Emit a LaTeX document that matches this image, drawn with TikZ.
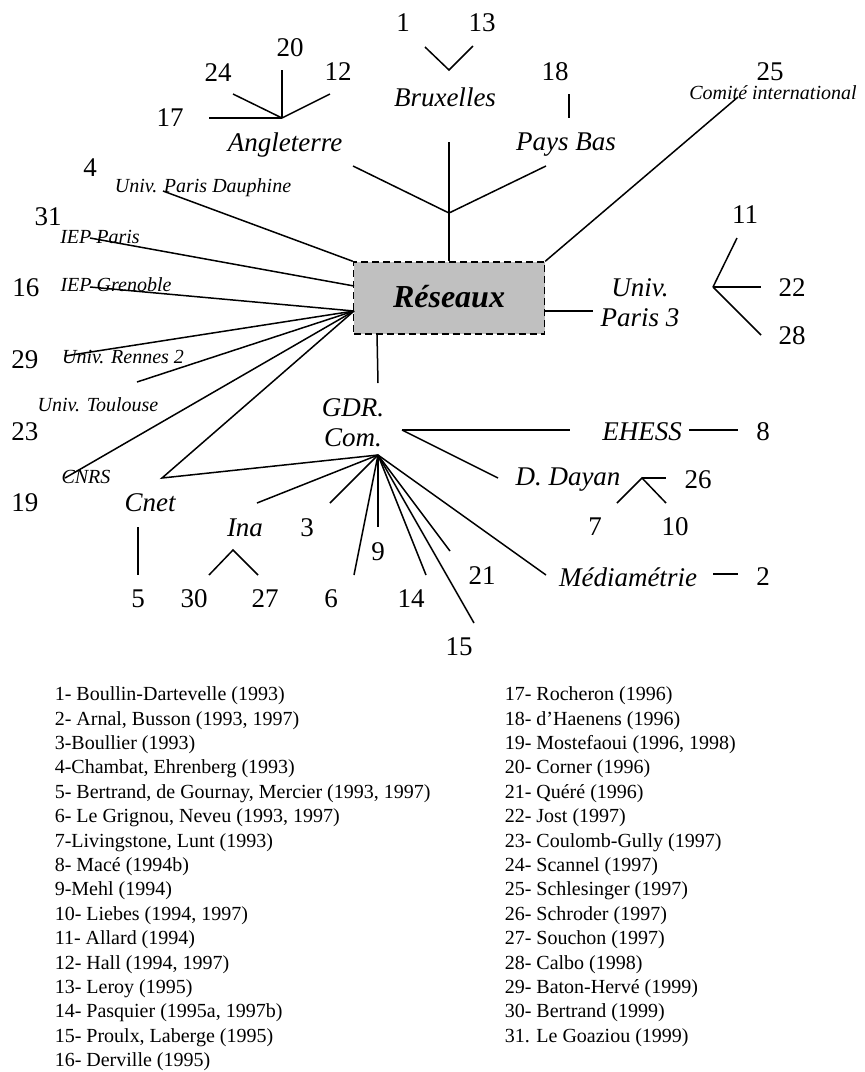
\documentclass[tikz,border=0pt]{standalone}
\usepackage{fontspec}
\setmainfont{Liberation Serif}
\usetikzlibrary{positioning}
\definecolor{boxgray}{RGB}{192,192,192}

\begin{document}
\begin{tikzpicture}[x=1pt, y=-1pt, line width=1.5pt,
  num/.style={font=\fontsize{27}{30}\selectfont, inner sep=0pt},
  place/.style={font=\fontsize{27}{30}\selectfont\itshape, inner sep=0pt, align=center},
  inst/.style={font=\fontsize{20}{22}\selectfont\itshape, inner sep=0pt},
  hubbox/.style={draw, dash pattern=on 7pt off 4pt, fill=boxgray, minimum width=191pt, minimum height=72pt, inner sep=0pt, font=\fontsize{32}{36}\selectfont\bfseries\itshape},
  legend/.style={font=\fontsize{20}{24.4}\selectfont, anchor=north west, align=left, inner sep=0pt}]

    \useasboundingbox (0,0) rectangle (865,1072);

    \node[hubbox] (res) at (449,298) {\raisebox{3pt}{Réseaux}};

    \node[place] (bru)   at (445,97)  {Bruxelles};
    \node[place] (ang)   at (285,145) {Angleterre};
    \node[place] (pb)    at (566,145) {Pays Bas};
    \node[place] (up3)   at (640,303) {Univ.\\Paris 3};
    \node[place] (gdr)   at (353,423) {GDR.\\Com.};
    \node[place] (ehess) at (642,432) {EHESS};
    \node[place] (dayan) at (568,480) {D. Dayan};
    \node[place] (media) at (628,577) {Médiamétrie};
    \node[place] (cnet)  at (150,503) {Cnet};
    \node[place] (ina)   at (245,528) {Ina};

    \node[inst] (dau)  at (203,188) {Univ. Paris Dauphine};
    \node[inst] (com)  at (773,93)  {Comité international};
    \node[inst] (iepp) at (100,237) {IEP Paris};
    \node[inst] (iepg) at (116,285) {IEP Grenoble};
    \node[inst] (ren)  at (123,357) {Univ. Rennes 2};
    \node[inst] (tou)  at (98,405)  {Univ. Toulouse};
    \node[inst] (cnrs) at (86,477)  {CNRS};

    \node[num] (n1)  at (403,23)  {1};
    \node[num] (n13) at (482,23)  {13};
    \node[num] (n20) at (290,48)  {20};
    \node[num] (n24) at (218,73)  {24};
    \node[num] (n12) at (338,72)  {12};
    \node[num] (n17) at (170,118) {17};
    \node[num] (n18) at (555,72)  {18};
    \node[num] (n25) at (770,72)  {25};
    \node[num] (n4)  at (90,168)  {4};
    \node[num] (n31) at (48,217)  {31};
    \node[num] (n16) at (26,288)  {16};
    \node[num] (n29) at (25,360)  {29};
    \node[num] (n23) at (25,432)  {23};
    \node[num] (n19) at (25,503)  {19};
    \node[num] (n11) at (745,215) {11};
    \node[num] (n22) at (792,288) {22};
    \node[num] (n28) at (792,336) {28};
    \node[num] (n8)  at (763,432) {8};
    \node[num] (n26) at (698,480) {26};
    \node[num] (n7)  at (595,527) {7};
    \node[num] (n10) at (675,527) {10};
    \node[num] (n2)  at (763,577) {2};
    \node[num] (n5)  at (138,599) {5};
    \node[num] (n30) at (194,599) {30};
    \node[num] (n27) at (265,599) {27};
    \node[num] (n3)  at (307,528) {3};
    \node[num] (n9)  at (378,552) {9};
    \node[num] (n6)  at (331,599) {6};
    \node[num] (n14) at (411,599) {14};
    \node[num] (n21) at (482,576) {21};
    \node[num] (n15) at (459,647) {15};

    \coordinate (jtop) at (449,213);
    \coordinate (bruend) at (449,142);
    \coordinate (angend) at (353,166);
    \coordinate (pbend) at (546,166);
    \coordinate (comend) at (738,97);
    \coordinate (dauend) at (163,191);
    \coordinate (resw) at (354,286);
    \coordinate (hubw) at (354,311);
    \coordinate (ieppend) at (90,238);
    \coordinate (iepgend) at (90,287);
    \coordinate (renend) at (65,356);
    \coordinate (touend) at (137,382);
    \coordinate (cnrsend) at (65,478);
    \coordinate (cnetpt) at (162,478);
    \coordinate (rese) at (544,311);
    \coordinate (up3end) at (593,311);
    \coordinate (ress) at (377,334);
    \coordinate (gdrend) at (378,383);

    \draw (res.north) -- (bruend);
    \draw (angend) -- (jtop) -- (pbend);
    \draw (res.north east) -- (comend);
    \draw (res.north west) -- (dauend);
    \draw (resw) -- (ieppend);
    \draw (hubw) -- (iepgend);
    \draw (hubw) -- (renend);
    \draw (hubw) -- (touend);
    \draw (hubw) -- (cnrsend);
    \draw (rese) -- (up3end);
    \draw (ress) -- (gdrend);

    \coordinate (jang) at (282,118);
    \coordinate (a20) at (282,70);
    \coordinate (a24) at (233,94);
    \coordinate (a12) at (330,94);
    \coordinate (a17) at (209,118);
    \draw (jang) -- (a20);
    \draw (jang) -- (a24);
    \draw (jang) -- (a12);
    \draw (jang) -- (a17);

    \coordinate (b1) at (425,47);
    \coordinate (jbru) at (449,70);
    \coordinate (b13) at (473,46);
    \draw (b1) -- (jbru) -- (b13);

    \coordinate (p18) at (569,94);
    \coordinate (p18b) at (569,118);
    \draw (p18) -- (p18b);

    \coordinate (jup3) at (713,287);
    \coordinate (u11) at (737,238);
    \coordinate (u22) at (761,287);
    \coordinate (u28) at (761,335);
    \draw (jup3) -- (u11);
    \draw (jup3) -- (u22);
    \draw (jup3) -- (u28);

    \coordinate (jgdr) at (378,455);
    \coordinate (jeh) at (402,430);
    \coordinate (ehend) at (570,430);
    \coordinate (dayend) at (498,478);
    \coordinate (inaend) at (257,503);
    \coordinate (g3) at (330,503);
    \coordinate (g9) at (378,527);
    \coordinate (g6) at (354,575);
    \coordinate (g14) at (426,575);
    \coordinate (g15) at (474,623);
    \coordinate (g21) at (450,551);
    \coordinate (mediaend) at (546,575);
    \draw (hubw) -- (cnetpt) -- (jgdr);
    \draw (jeh) -- (ehend);
    \draw (jeh) -- (dayend);
    \draw (jgdr) -- (inaend);
    \draw (jgdr) -- (g3);
    \draw (jgdr) -- (g9);
    \draw (jgdr) -- (g6);
    \draw (jgdr) -- (g14);
    \draw (jgdr) -- (g15);
    \draw (jgdr) -- (g21);
    \draw (jgdr) -- (mediaend);

    \coordinate (e8a) at (689,430);
    \coordinate (e8b) at (738,430);
    \draw (e8a) -- (e8b);
    \coordinate (m2a) at (713,574);
    \coordinate (m2b) at (738,574);
    \draw (m2a) -- (m2b);

    \coordinate (jday) at (642,478);
    \coordinate (d26) at (666,478);
    \coordinate (d7) at (617,503);
    \coordinate (d10) at (666,503);
    \draw (jday) -- (d26);
    \draw (d7) -- (jday) -- (d10);

    \coordinate (c5a) at (138,527);
    \coordinate (c5b) at (138,575);
    \draw (c5a) -- (c5b);
    \coordinate (i30) at (209,575);
    \coordinate (jina) at (233,550);
    \coordinate (i27) at (258,575);
    \draw (i30) -- (jina) -- (i27);

    \node[legend] (legl) at (54,686) {1- Boullin-Dartevelle (1993)\\2- Arnal, Busson (1993, 1997)\\3-Boullier (1993)\\4-Chambat, Ehrenberg (1993)\\5- Bertrand, de Gournay, Mercier (1993, 1997)\\6- Le Grignou, Neveu (1993, 1997)\\7-Livingstone, Lunt (1993)\\8- Macé (1994b)\\9-Mehl (1994)\\10- Liebes (1994, 1997)\\11- Allard (1994)\\12- Hall (1994, 1997)\\13- Leroy (1995)\\14- Pasquier (1995a, 1997b)\\15- Proulx, Laberge (1995)\\16- Derville (1995)};
    \node[legend] (legr) at (504,686) {17- Rocheron (1996)\\18- d’Haenens (1996)\\19- Mostefaoui (1996, 1998)\\20- Corner (1996)\\21- Quéré (1996)\\22- Jost (1997)\\23- Coulomb-Gully (1997)\\24- Scannel (1997)\\25- Schlesinger (1997)\\26- Schroder (1997)\\27- Souchon (1997)\\28- Calbo (1998)\\29- Baton-Hervé (1999)\\30- Bertrand (1999)\\31. Le Goaziou (1999)};
\end{tikzpicture}
\end{document}
